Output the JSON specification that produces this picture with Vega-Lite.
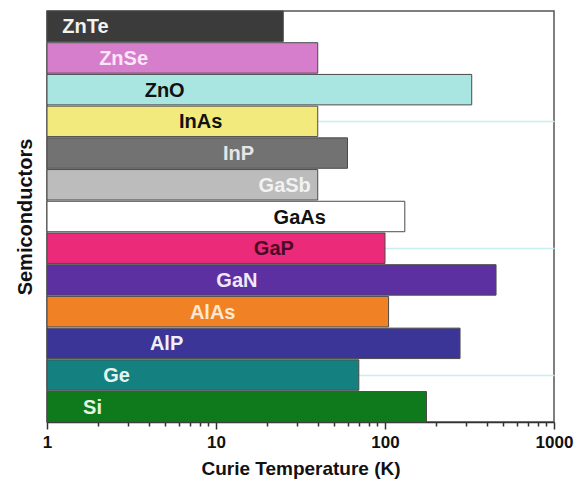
{
  "$schema": "https://vega.github.io/schema/vega-lite/v6.json",
  "width": 507,
  "height": 411,
  "autosize": {"type": "none"},
  "padding": {"left": 47, "top": 11, "right": 26, "bottom": 68},
  "background": "white",
  "config": {
    "view": {"stroke": "#555555", "strokeWidth": 1.5},
    "font": "Liberation Sans"
  },
  "data": {
    "values": [
      {"name": "ZnTe", "tc": 25, "labelK": 1.69},
      {"name": "ZnSe", "tc": 40, "labelK": 2.84},
      {"name": "ZnO", "tc": 326, "labelK": 4.97},
      {"name": "InAs", "tc": 40, "labelK": 8.12},
      {"name": "InP", "tc": 60, "labelK": 13.6},
      {"name": "GaSb", "tc": 40, "labelK": 25.5},
      {"name": "GaAs", "tc": 131, "labelK": 31.3},
      {"name": "GaP", "tc": 100, "labelK": 22},
      {"name": "GaN", "tc": 454, "labelK": 13.3},
      {"name": "AlAs", "tc": 105, "labelK": 9.56},
      {"name": "AlP", "tc": 278, "labelK": 5.1},
      {"name": "Ge", "tc": 70, "labelK": 2.58},
      {"name": "Si", "tc": 176, "labelK": 1.86}
    ]
  },
  "encoding": {
    "y": {
      "field": "name",
      "type": "nominal",
      "sort": null,
      "scale": {"paddingInner": 0.04, "paddingOuter": 0},
      "axis": {
        "title": "Semiconductors",
        "titleFontSize": 20,
        "titleFontWeight": "bold",
        "titleColor": "#111111",
        "titlePadding": 12,
        "labels": false,
        "ticks": false,
        "domain": false,
        "grid": true,
        "values": ["InAs", "GaP", "Ge"],
        "bandPosition": 0.5,
        "gridColor": "#c9eef2",
        "gridWidth": 1.5
      }
    }
  },
  "layer": [
    {
      "mark": {"type": "bar", "stroke": "#4a4a4a", "strokeWidth": 1},
      "encoding": {
        "x": {
          "field": "tc",
          "type": "quantitative",
          "scale": {"type": "log", "domain": [1, 1000], "nice": false},
          "axis": {
            "title": "Curie Temperature (K)",
            "titleFontSize": 19,
            "titleFontWeight": "bold",
            "titleColor": "#111111",
            "titlePadding": 9,
            "values": [1, 2, 3, 4, 5, 6, 7, 8, 9, 10, 20, 30, 40, 50, 60, 70, 80, 90, 100, 200, 300, 400, 500, 600, 700, 800, 900, 1000],
            "labelExpr": "(datum.value == 1 || datum.value == 10 || datum.value == 100 || datum.value == 1000) ? datum.label : ''",
            "format": "d",
            "labelFontSize": 17,
            "labelFontWeight": "bold",
            "labelColor": "#111111",
            "labelPadding": 5,
            "labelFlush": false,
            "tickColor": "#333333",
            "tickWidth": 1.5,
            "tickSize": {"condition": {"test": "datum.value == 1 || datum.value == 10 || datum.value == 100 || datum.value == 1000", "value": 7}, "value": 4},
            "domainColor": "#333333",
            "domainWidth": 1.5,
            "grid": false
          }
        },
        "x2": {"datum": 1},
        "color": {
          "field": "name",
          "type": "nominal",
          "legend": null,
          "scale": {
            "domain": ["ZnTe", "ZnSe", "ZnO", "InAs", "InP", "GaSb", "GaAs", "GaP", "GaN", "AlAs", "AlP", "Ge", "Si"],
            "range": ["#3b3b3b", "#d67dcc", "#a9e6e1", "#f2ea7c", "#727272", "#bcbcbc", "#ffffff", "#ec2a7a", "#5c30a0", "#f08125", "#3b3597", "#14807f", "#0e7a1b"]
          }
        }
      }
    },
    {
      "mark": {"type": "text", "fontSize": 20, "fontWeight": "bold", "align": "center", "baseline": "middle", "dy": 1},
      "encoding": {
        "x": {"field": "labelK", "type": "quantitative"},
        "text": {"field": "name"},
        "color": {
          "field": "name",
          "type": "nominal",
          "legend": null,
          "scale": {
            "domain": ["ZnTe", "ZnSe", "ZnO", "InAs", "InP", "GaSb", "GaAs", "GaP", "GaN", "AlAs", "AlP", "Ge", "Si"],
            "range": ["#f2f2f2", "#fbe6f7", "#111111", "#111111", "#e6e6e6", "#f2f2f2", "#111111", "#4a0a26", "#f0e8f8", "#fde9d2", "#f0f0f8", "#e6f4f0", "#e6f4e6"]
          }
        }
      }
    }
  ],
  "resolve": {"scale": {"color": "independent"}}
}
